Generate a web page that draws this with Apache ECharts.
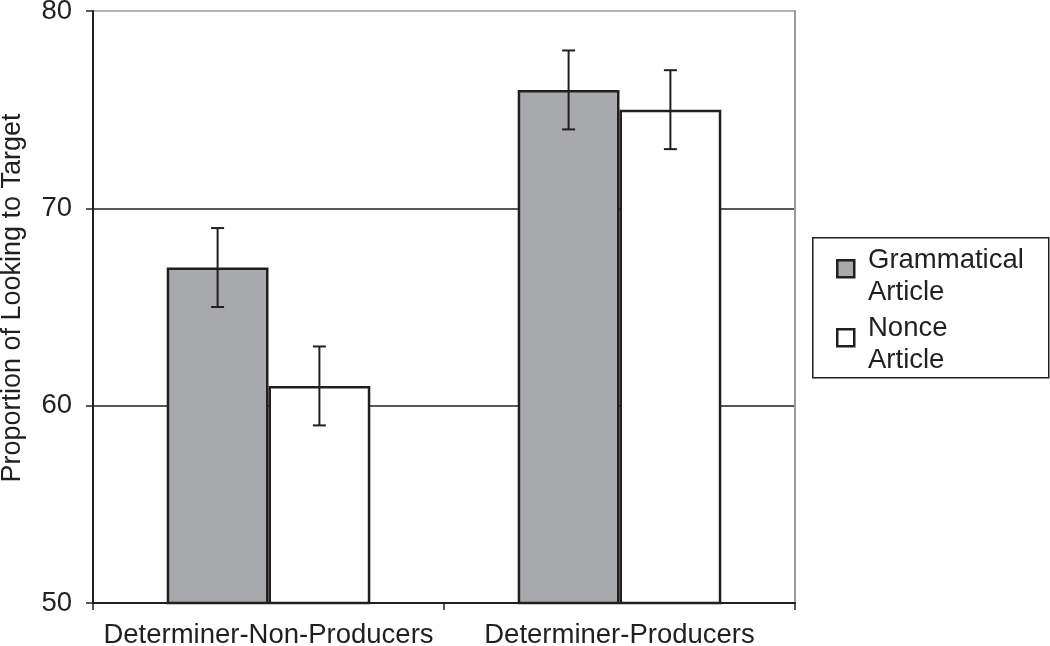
<!DOCTYPE html>
<html>
<head>
<meta charset="utf-8">
<script src="https://cdn.jsdelivr.net/npm/echarts@6/dist/echarts.min.js"></script>
<style>html,body{margin:0;padding:0;background:#fff;}#chart{width:1050px;height:646px;}</style>
</head>
<body>
<div id="chart"></div>
<script>
var categories = ['Determiner-Non-Producers', 'Determiner-Producers'];
var seriesNames = ['Grammatical\nArticle', 'Nonce\nArticle'];
var grammatical = [67, 76];
var nonce = [61, 75];
var grammaticalErr = [2, 2];
var nonceErr = [2, 2];
var yTicks = [50, 60, 70, 80];

var FONT = '"Liberation Sans", Arial, sans-serif';
var BAR_FRAC = 0.29;
var chart = echarts.init(document.getElementById('chart'));

function errSeries(vals, errs, idx) {
  var data = vals.map(function (v, i) { return [i, v - errs[i], v + errs[i]]; });
  return {
    type: 'custom', z: 5, silent: true,
    data: data,
    renderItem: function (params, api) {
      var bw = api.size([1, 0])[0] * BAR_FRAC;
      var off = (idx === 0 ? -0.5 : 0.5) * bw;
      var lo = api.coord([api.value(0), api.value(1)]);
      var hi = api.coord([api.value(0), api.value(2)]);
      var x = lo[0] + off;
      var cap = 6.5;
      var st = { stroke: '#231f20', lineWidth: 2 };
      return { type: 'group', children: [
        { type: 'line', shape: { x1: x, y1: lo[1], x2: x, y2: hi[1] }, style: st },
        { type: 'line', shape: { x1: x - cap, y1: lo[1], x2: x + cap, y2: lo[1] }, style: st },
        { type: 'line', shape: { x1: x - cap, y1: hi[1], x2: x + cap, y2: hi[1] }, style: st }
      ]};
    }
  };
}

var option = {
  animation: false,
  backgroundColor: '#fff',
  grid: { left: 93, right: 255, top: 11, bottom: 43, outerBoundsMode: 'none', containLabel: false },
  xAxis: {
    type: 'category', data: categories, boundaryGap: true,
    axisLine: { lineStyle: { color: '#231f20', width: 2 } },
    axisTick: { show: true, interval: 0, length: 7, lineStyle: { color: '#231f20', width: 1.5 } },
    axisLabel: { interval: 0, hideOverlap: false, fontFamily: FONT, fontSize: 27.5, color: '#231f20', margin: 18 }
  },
  yAxis: [{
    type: 'value', min: yTicks[0], max: yTicks[yTicks.length - 1], interval: 10,
    name: 'Proportion of Looking to Target', nameLocation: 'middle', nameGap: 67,
    nameTextStyle: { fontFamily: FONT, fontSize: 27, color: '#231f20', padding: [0, 0, 0, 18] },
    axisLine: { show: true, lineStyle: { color: '#231f20', width: 2 } },
    axisTick: { show: true, length: 7, lineStyle: { color: '#231f20', width: 1.5 } },
    axisLabel: { fontFamily: FONT, fontSize: 27.5, color: '#231f20', margin: 21 },
    splitLine: { show: true, lineStyle: { color: ['#231f20', '#231f20', '#231f20', '#999'], width: 1.5 } }
  }, {
    type: 'value', min: yTicks[0], max: yTicks[yTicks.length - 1], interval: 10, position: 'right',
    axisLine: { show: true, lineStyle: { color: '#9a9a9a', width: 2 } },
    axisTick: { show: false }, axisLabel: { show: false }, splitLine: { show: false }
  }],
  series: [
    { name: seriesNames[0], type: 'bar', data: grammatical, barWidth: (BAR_FRAC * 100) + '%', barGap: '0%',
      itemStyle: { color: '#a7a9ac', borderColor: '#231f20', borderWidth: 2.5 }, z: 3 },
    { name: seriesNames[1], type: 'bar', data: nonce, barWidth: (BAR_FRAC * 100) + '%', barGap: '0%',
      itemStyle: { color: '#ffffff', borderColor: '#231f20', borderWidth: 2.5 }, z: 3 },
    errSeries(grammatical, grammaticalErr, 0),
    errSeries(nonce, nonceErr, 1)
  ],
  graphic: [
    { type: 'rect', left: 812, top: 237, shape: { width: 236, height: 140 },
      style: { fill: '#fff', stroke: '#231f20', lineWidth: 1.5 } },
    { type: 'rect', left: 836, top: 259, shape: { width: 17, height: 17 },
      style: { fill: '#a7a9ac', stroke: '#231f20', lineWidth: 2.5 } },
    { type: 'text', left: 868, top: 244, style: { text: seriesNames[0], font: '27.5px ' + FONT, fill: '#231f20', lineHeight: 32 } },
    { type: 'rect', left: 836, top: 328, shape: { width: 17, height: 17 },
      style: { fill: '#fff', stroke: '#231f20', lineWidth: 2.5 } },
    { type: 'text', left: 868, top: 312, style: { text: seriesNames[1], font: '27.5px ' + FONT, fill: '#231f20', lineHeight: 32 } }
  ]
};
chart.setOption(option);
</script>
</body>
</html>
